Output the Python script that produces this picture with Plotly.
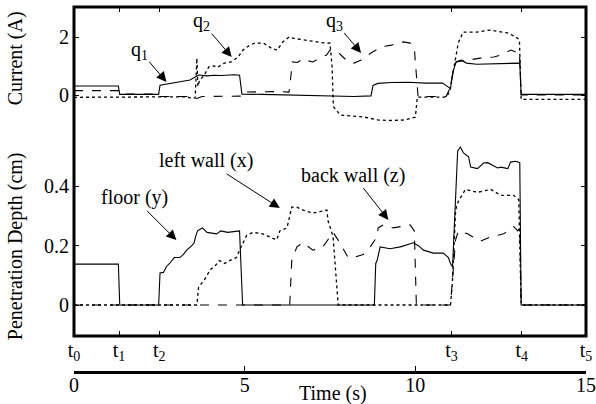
import plotly.graph_objects as go

# ---- data (time in s) ----
# Current (A)
q1_t = [0, 1.30, 1.34, 2.48, 2.52, 2.8, 3.1, 3.4, 3.55, 3.65, 3.9, 4.1, 4.3, 4.5, 4.7, 4.85, 4.92, 5.5, 6.3, 7.0, 7.6, 8.2, 8.7, 8.76, 8.9, 9.3, 9.8, 10.3, 10.8, 10.95, 11.03, 11.1, 11.2, 11.35, 11.5, 11.8, 12.2, 12.6, 13.0, 13.06, 13.1, 15]
q1_i = [0.31, 0.31, 0.02, 0.02, 0.34, 0.40, 0.45, 0.52, 0.62, 0.69, 0.66, 0.68, 0.67, 0.69, 0.70, 0.68, 0.03, 0.02, 0.0, -0.04, -0.05, -0.05, -0.03, 0.33, 0.40, 0.43, 0.44, 0.41, 0.41, 0.30, 0.22, 0.80, 1.15, 1.20, 1.10, 1.06, 1.08, 1.08, 1.10, 1.10, 0.02, 0.02]

q2_t = [0, 2.5, 3.3, 3.45, 3.55, 3.60, 3.63, 3.68, 3.8, 3.95, 4.1, 4.2, 4.4, 4.6, 4.8, 4.95, 5.15, 5.3, 5.55, 5.8, 5.95, 6.12, 6.3, 6.45, 6.7, 7.0, 7.3, 7.5, 7.56, 7.6, 7.8, 8.1, 8.5, 8.9, 9.3, 9.7, 9.9, 10.0, 10.06, 10.9, 11.0, 11.1, 11.2, 11.26, 11.4, 11.8, 12.2, 12.7, 12.95, 13.05, 13.1, 15]
q2_i = [-0.08, -0.08, -0.06, -0.12, -0.10, 1.27, 0.30, 0.52, 0.65, 0.97, 1.00, 0.95, 1.10, 1.14, 1.30, 1.55, 1.72, 1.79, 1.79, 1.60, 1.55, 1.83, 2.00, 1.95, 1.90, 1.85, 1.80, 1.79, 1.00, -0.40, -0.69, -0.72, -0.76, -0.86, -0.88, -0.86, -0.80, -0.76, -0.07, -0.07, 0.10, 0.80, 1.50, 1.80, 2.17, 2.17, 2.24, 2.14, 2.00, 1.90, -0.15, -0.15]

q3_t = [0, 1.30, 1.34, 2.48, 2.52, 3.3, 3.5, 3.6, 3.75, 4.9, 4.95, 5.5, 6.0, 6.3, 6.35, 6.4, 6.55, 6.7, 6.85, 7.0, 7.2, 7.4, 7.5, 7.7, 7.88, 8.05, 8.2, 8.4, 8.7, 9.0, 9.3, 9.65, 9.85, 9.97, 10.03, 10.08, 10.9, 11.0, 11.08, 11.15, 11.2, 11.5, 11.9, 12.3, 12.5, 12.8, 12.95, 13.05, 13.1, 15]
q3_i = [0.15, 0.15, 0.03, 0.03, -0.05, -0.05, -0.10, -0.12, -0.05, -0.04, 0.10, 0.12, 0.12, 0.10, 0.60, 1.14, 1.12, 1.25, 1.18, 1.14, 1.27, 1.38, 1.55, 1.52, 1.31, 1.12, 1.10, 1.20, 1.45, 1.66, 1.72, 1.83, 1.79, 1.62, 0.70, -0.05, -0.05, 0.20, 0.60, 1.05, 1.14, 1.20, 1.27, 1.31, 1.38, 1.55, 1.48, 1.50, 0.0, 0.0]

# Penetration depth (cm)
floor_t = [0, 1.30, 1.34, 2.48, 2.52, 2.62, 2.71, 2.8, 2.94, 3.1, 3.2, 3.3, 3.45, 3.52, 3.56, 3.62, 3.76, 3.9, 4.18, 4.3, 4.5, 4.76, 4.85, 4.94, 8.8, 8.84, 8.88, 8.97, 9.26, 9.56, 9.85, 9.94, 10.09, 10.24, 10.53, 10.82, 10.97, 11.03, 11.09, 11.18, 11.24, 11.32, 11.41, 11.56, 11.62, 11.82, 12.0, 12.12, 12.41, 12.5, 12.71, 12.79, 12.94, 13.06, 13.1, 15]
floor_d = [0.138, 0.138, 0, 0, 0.108, 0.11, 0.13, 0.14, 0.16, 0.16, 0.17, 0.185, 0.20, 0.21, 0.23, 0.25, 0.26, 0.245, 0.24, 0.25, 0.245, 0.25, 0.25, 0, 0, 0.14, 0.15, 0.196, 0.19, 0.196, 0.205, 0.21, 0.20, 0.185, 0.175, 0.175, 0.16, 0.14, 0.128, 0.35, 0.52, 0.533, 0.513, 0.50, 0.465, 0.46, 0.479, 0.48, 0.462, 0.465, 0.46, 0.482, 0.485, 0.48, 0, 0]

left_t = [0, 3.6, 3.65, 3.82, 4.0, 4.12, 4.26, 4.41, 4.56, 4.76, 4.85, 5.06, 5.24, 5.53, 5.82, 5.94, 6.03, 6.24, 6.38, 6.53, 6.71, 7.0, 7.41, 7.44, 7.59, 7.71, 7.74, 11.03, 11.09, 11.18, 11.26, 11.47, 11.82, 12.21, 12.5, 12.88, 13.03, 13.1, 15]
left_d = [0, 0, 0.06, 0.085, 0.12, 0.13, 0.15, 0.14, 0.15, 0.16, 0.185, 0.235, 0.245, 0.24, 0.225, 0.22, 0.25, 0.26, 0.33, 0.33, 0.32, 0.31, 0.32, 0.285, 0.23, 0.05, 0, 0, 0.085, 0.32, 0.35, 0.39, 0.38, 0.39, 0.37, 0.37, 0.355, 0, 0]

back_t = [0, 6.32, 6.38, 6.41, 6.53, 6.71, 7.0, 7.29, 7.5, 7.59, 7.79, 8.03, 8.18, 8.47, 8.68, 8.88, 8.91, 9.06, 9.35, 9.65, 9.85, 9.97, 10.03, 11.03, 11.09, 11.18, 11.26, 11.53, 11.91, 12.21, 12.59, 12.88, 13.0, 13.06, 13.1, 15]
back_d = [0, 0, 0.15, 0.16, 0.196, 0.21, 0.185, 0.196, 0.23, 0.245, 0.21, 0.16, 0.16, 0.17, 0.196, 0.23, 0.26, 0.27, 0.26, 0.265, 0.27, 0.25, 0, 0, 0.10, 0.22, 0.25, 0.24, 0.215, 0.23, 0.24, 0.265, 0.25, 0.26, 0, 0]

# event marks
event_t = [0, 1.32, 2.5, 11.06, 13.12, 15]
event_lbl = ["t<sub>0</sub>", "t<sub>1</sub>", "t<sub>2</sub>", "t<sub>3</sub>", "t<sub>4</sub>", "t<sub>5</sub>"]
time_ticks = [0, 5, 10, 15]
cur_ticks = [0, 2]
dep_ticks = [0, 0.2, 0.4]
dep_lbls = ["0", "0.2", "0.4"]

FONT = "Liberation Serif"
FS = 20

DEP_RANGE = [-31 / 296.5, 298 / 296.5]
CUR_RANGE = [(95 - 336) / 29.0, (95 - 7) / 29.0]
dom0 = (372 - 336) / 365.0

fig = go.Figure()
lw = 1.1
fig.add_trace(go.Scatter(x=q1_t, y=q1_i, mode="lines", line=dict(color="black", width=lw), yaxis="y2"))
fig.add_trace(go.Scatter(x=q2_t, y=q2_i, mode="lines", line=dict(color="black", width=1.3, dash="dot"), yaxis="y2"))
fig.add_trace(go.Scatter(x=q3_t, y=q3_i, mode="lines", line=dict(color="black", width=lw, dash="dash"), yaxis="y2"))
fig.add_trace(go.Scatter(x=floor_t, y=floor_d, mode="lines", line=dict(color="black", width=lw), yaxis="y"))
fig.add_trace(go.Scatter(x=left_t, y=left_d, mode="lines", line=dict(color="black", width=1.3, dash="dot"), yaxis="y"))
fig.add_trace(go.Scatter(x=back_t, y=back_d, mode="lines", line=dict(color="black", width=lw, dash="dash"), yaxis="y"))
# helper (empty) traces so the extra axes are drawn
for xa, ya in [("x2", "y"), ("x3", "y"), ("x", "y3"), ("x", "y4")]:
    fig.add_trace(go.Scatter(x=[None], y=[None], xaxis=xa, yaxis=ya, mode="lines", hoverinfo="skip"))

tick_common = dict(ticks="inside", ticklen=5, tickwidth=1, tickcolor="black",
                   showgrid=False, zeroline=False, automargin=False,
                   tickfont=dict(family=FONT, size=FS, color="black"))

fig.update_layout(
    width=596, height=404,
    margin=dict(l=74, r=10, t=7, b=32, autoexpand=False),
    paper_bgcolor="white", plot_bgcolor="white",
    showlegend=False,
    font=dict(family=FONT, size=FS, color="black"),
    xaxis=dict(range=[0, 15], domain=[0, 1], anchor="y",
               tickmode="array", tickvals=event_t, ticktext=event_lbl,
               showline=False, ticklabelstandoff=0, **tick_common),
    xaxis2=dict(range=[0, 15], domain=[0, 1], anchor="free", position=0, overlaying="x", side="bottom",
                tickmode="array", tickvals=time_ticks,
                showline=True, linewidth=3, linecolor="black", ticklabelstandoff=-6, **tick_common),
    xaxis3=dict(range=[0, 15], domain=[0, 1], anchor="y", overlaying="x", side="top",
                tickmode="array", tickvals=event_t, showticklabels=False, showline=False, **tick_common),
    yaxis=dict(domain=[dom0, 1], range=DEP_RANGE, anchor="x",
               tickmode="array", tickvals=dep_ticks, ticktext=dep_lbls,
               showline=False, ticklabelstandoff=4, **tick_common),
    yaxis2=dict(domain=[dom0, 1], range=CUR_RANGE, overlaying="y", anchor="x",
                tickmode="array", tickvals=cur_ticks,
                showline=False, ticklabelstandoff=4, **tick_common),
    yaxis3=dict(domain=[dom0, 1], range=DEP_RANGE, overlaying="y", anchor="x", side="right",
                tickmode="array", tickvals=dep_ticks, showticklabels=False, showline=False, **tick_common),
    yaxis4=dict(domain=[dom0, 1], range=CUR_RANGE, overlaying="y", anchor="x", side="right",
                tickmode="array", tickvals=cur_ticks, showticklabels=False, showline=False, **tick_common),
    shapes=[dict(type="rect", xref="paper", yref="paper", x0=0, x1=1, y0=dom0, y1=1,
                 line=dict(color="black", width=3), fillcolor="rgba(0,0,0,0)", layer="above")],
)

ann = []
def arrow(text, tx, ty, hx, hy, yref):
    ann.append(dict(text=text, x=hx, y=hy, ax=tx, ay=ty, xref="x", yref=yref, axref="x", ayref=yref,
                    showarrow=True, arrowhead=2, arrowsize=2, arrowwidth=1, arrowcolor="black",
                    font=dict(family=FONT, size=FS, color="black")))

arrow("q<sub>1</sub>", 1.91, 1.55, 2.71, 0.45, "y2")
arrow("q<sub>2</sub>", 3.74, 2.52, 4.62, 1.31, "y2")
arrow("q<sub>3</sub>", 7.62, 2.55, 8.41, 1.45, "y2")
arrow("floor (y)", 1.76, 0.361, 3.0, 0.219, "y")
arrow("left wall (x)", 3.88, 0.486, 6.03, 0.327, "y")
arrow("back wall (z)", 8.18, 0.438, 9.21, 0.287, "y")

ann.append(dict(text="Time (s)", x=7.6, y=-0.058, xref="x", yref="paper", showarrow=False,
                xanchor="center", yanchor="middle", font=dict(family=FONT, size=FS)))
ann.append(dict(text="Current (A)", x=-0.115, y=0.860, xref="paper", yref="paper", showarrow=False,
                textangle=-90, xanchor="center", yanchor="middle", font=dict(family=FONT, size=FS)))
ann.append(dict(text="Penetration Depth (cm)", x=-0.115, y=0.345, xref="paper", yref="paper", showarrow=False,
                textangle=-90, xanchor="center", yanchor="middle", font=dict(family=FONT, size=FS)))
fig.update_layout(annotations=ann)

fig.write_html("out.html", config={"displayModeBar": False},
               post_script="document.body.style.margin='0px';")
